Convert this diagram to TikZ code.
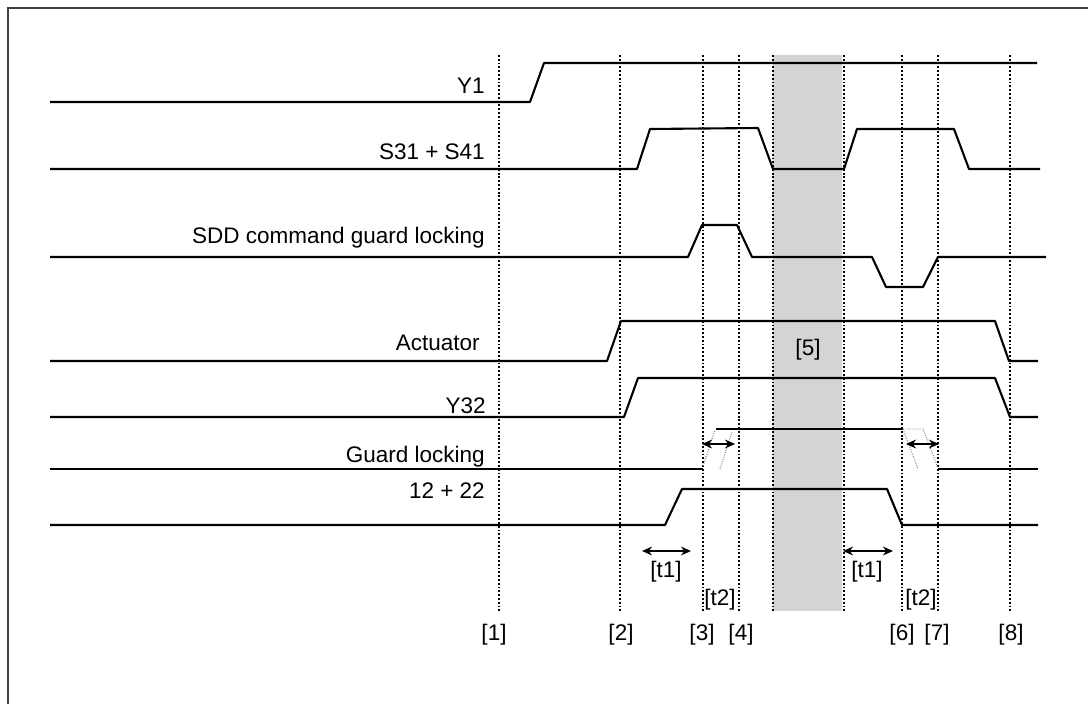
\documentclass[tikz,border=0pt]{standalone}
\usepackage{fontspec}
\setmainfont{Liberation Sans}
\usetikzlibrary{arrows.meta}

\begin{document}
\begin{tikzpicture}[
  x=0.025cm, y=-0.025cm,
  font=\fontsize{16}{19}\selectfont,
  sig/.style={line width=1.5pt,line join=round},
  vline/.style={line width=1.5pt,dash pattern=on 1.3pt off 1.4pt},
  ghost/.style={black!50,line width=0.7pt,densely dotted},
  span/.style={{Stealth[length=2.5mm,width=2.2mm]}-{Stealth[length=2.5mm,width=2.2mm]},line width=1.1pt},
  lbl/.style={anchor=base east,inner sep=0pt},
  tmark/.style={inner sep=0pt},
]
\useasboundingbox (0,0) rectangle (1088,704);

% ---- frame (cut off on the right and at the bottom) ----------------------
\draw[black!75,line width=1pt] (8,704) -- (8,8) -- (1088,8);

% ---- standstill band [5] --------------------------------------------------
\fill[black!17] (773,55) rectangle (842,611);
\node[tmark] (p5) at (808,350) {[5]};

% ---- time marks -----------------------------------------------------------
\foreach \x in {499,620,703,739,773,844,902,938,1010}
  \draw[vline] (\x,55) -- (\x,611);

\node[tmark] (m1) at (494,635) {[1]};
\node[tmark] (m2) at (621,635) {[2]};
\node[tmark] (m3) at (702,635) {[3]};
\node[tmark] (m4) at (741,635) {[4]};
\node[tmark] (m6) at (902,635) {[6]};
\node[tmark] (m7) at (937,635) {[7]};
\node[tmark] (m8) at (1011,635) {[8]};

% ---- signal names ---------------------------------------------------------
\node[lbl] (nY1)  at (485,93)  {Y1};
\node[lbl] (nS)   at (485,159) {S31 + S41};
\node[lbl] (nSDD) at (485,243) {SDD command guard locking};
\node[lbl] (nAct) at (480,350) {Actuator};
\node[lbl] (nY32) at (486,413) {Y32};
\node[lbl] (nGL)  at (485,462) {Guard locking};
\node[lbl] (n12)  at (485,498) {12 + 22};

% ---- waveforms ------------------------------------------------------------
\draw[sig] (50,102) -- (530,102) -- (544,63) -- (1037,63);
\draw[sig] (50,169) -- (637,169) -- (650,129) -- (758,128) -- (773,169)
           -- (844,169) -- (857,129) -- (954,129) -- (969,169) -- (1040,169);
\draw[sig] (50,257) -- (688,257) -- (702,225) -- (737,225) -- (752,257)
           -- (872,257) -- (886,287) -- (923,287) -- (938,257) -- (1046,257);
\draw[sig] (50,361) -- (607,361) -- (621,321) -- (995,321) -- (1009,361) -- (1038,361);
\draw[sig] (50,417) -- (624,417) -- (638,378) -- (995,378) -- (1010,417) -- (1038,417);
\draw[sig] (50,525) -- (665,525) -- (682,489) -- (887,489) -- (902,525) -- (1038,525);

% guard locking: switching window drawn open
\draw[sig] (50,469) -- (703,469);
\draw[sig] (716,429) -- (903,429);
\draw[sig] (938,469) -- (1038,469);
\draw[ghost] (703,466) -- (715,430);
\draw[ghost] (720,469) -- (732,432);
\draw[ghost] (903,429) -- (918,469);
\draw[ghost] (903,429) -- (923,429) -- (938,468);

% ---- delay times ----------------------------------------------------------
\coordinate (gA) at (702,444);  \coordinate (gB) at (735,444);
\coordinate (gC) at (906,444);  \coordinate (gD) at (939,444);
\draw[span] (gA) -- (gB);
\draw[span] (gC) -- (gD);

\coordinate (dA) at (642,551);  \coordinate (dB) at (691,551);
\coordinate (dC) at (843,551);  \coordinate (dD) at (893,551);
\draw[span] (dA) -- (dB);
\draw[span] (dC) -- (dD);

\node[tmark] (t1a) at (666,572) {[t1]};
\node[tmark] (t1b) at (867,572) {[t1]};
\node[tmark] (t2a) at (720,600) {[t2]};
\node[tmark] (t2b) at (921,600) {[t2]};

\end{tikzpicture}
\end{document}
